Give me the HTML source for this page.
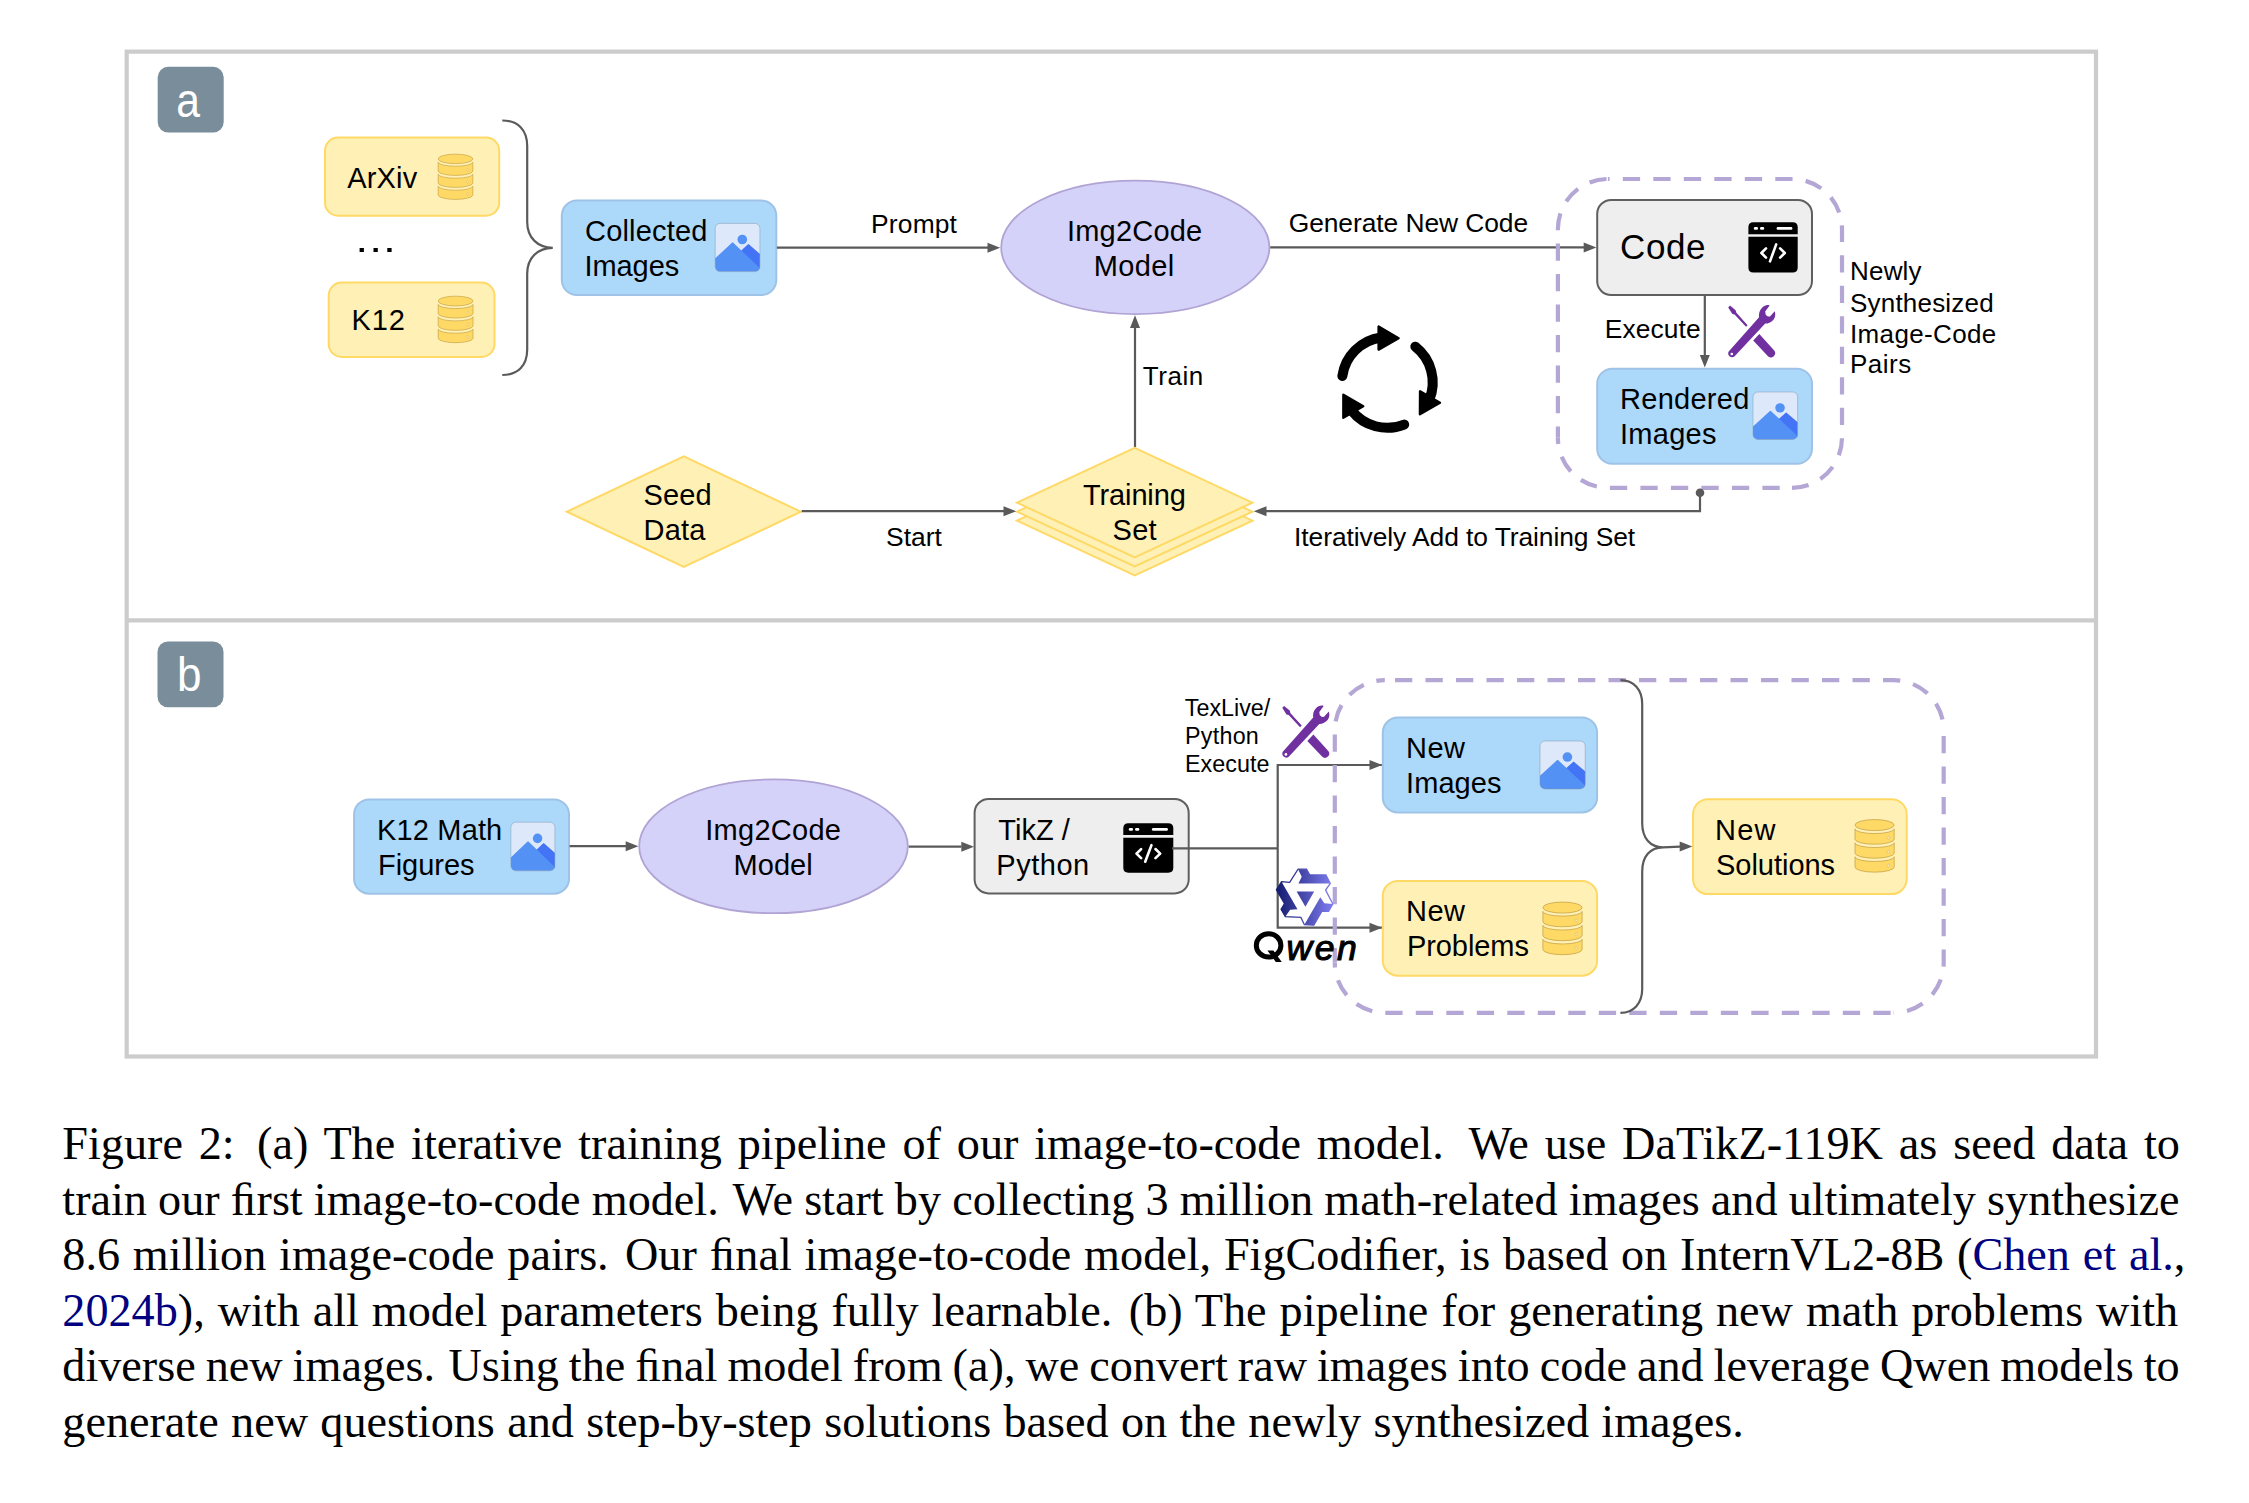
<!DOCTYPE html>
<html><head><meta charset="utf-8"><style>
html,body{margin:0;padding:0;background:#fff;width:2249px;height:1503px;overflow:hidden;position:relative}
</style></head><body>
<svg width="2249" height="1503" viewBox="0 0 2249 1503" style="position:absolute;left:0;top:0" font-family="Liberation Sans, sans-serif"><defs><symbol id="imgico" viewBox="0 0 44.7 48.2" overflow="visible" preserveAspectRatio="none">
<clipPath id="icclip"><rect x="0" y="0" width="44.7" height="48.2" rx="5"/></clipPath>
<rect x="0" y="0" width="44.7" height="48.2" rx="5" fill="#dde9fb"/>
<g clip-path="url(#icclip)">
<path d="M26.2,27.9 L33.2,21.4 L46,32.4 L46,46.3 Z" fill="#4374f5" stroke="#4374f5" stroke-width="1.2" stroke-linejoin="round"/>
<path d="M-2,37.6 L17.4,19.6 L47,47.7 L47,50 L-2,50 Z" fill="#5391f5" stroke="#5391f5" stroke-width="1.2" stroke-linejoin="round"/>
</g>
<circle cx="27.1" cy="16.1" r="4.8" fill="#5391f5"/>
<rect x="0" y="0" width="44.7" height="48.2" rx="5" fill="none" stroke="#7f95ab" stroke-width="0.6" stroke-opacity="0.8"/>
</symbol>
<symbol id="dbico" viewBox="0 0 34.6 45.6" overflow="visible" preserveAspectRatio="none"><ellipse cx="17.3" cy="4.8" rx="17.3" ry="4.75" fill="#ffd966" stroke="#bd9b3e" stroke-width="0.6"/><path d="M0,8.1 A17.3,4.0 0 0 0 34.6,8.1 L34.6,16.9 A17.3,4.4 0 0 1 0,16.9 Z" fill="#ffd966" stroke="#bd9b3e" stroke-width="0.6"/><circle cx="29.4" cy="15.7" r="1.1" fill="#fff2cc" stroke="#c9a544" stroke-width="0.4"/><path d="M0,20.1 A17.3,4.0 0 0 0 34.6,20.1 L34.6,28.9 A17.3,4.4 0 0 1 0,28.9 Z" fill="#ffd966" stroke="#bd9b3e" stroke-width="0.6"/><circle cx="29.4" cy="27.7" r="1.1" fill="#fff2cc" stroke="#c9a544" stroke-width="0.4"/><path d="M0,32.1 A17.3,4.0 0 0 0 34.6,32.1 L34.6,40.9 A17.3,4.4 0 0 1 0,40.9 Z" fill="#ffd966" stroke="#bd9b3e" stroke-width="0.6"/><circle cx="29.4" cy="39.7" r="1.1" fill="#fff2cc" stroke="#c9a544" stroke-width="0.4"/></symbol>
<symbol id="codeico" viewBox="0 0 49.3 50.3" overflow="visible" preserveAspectRatio="none">
<path d="M0,12 L0,5 Q0,0 5,0 L44.3,0 Q49.3,0 49.3,5 L49.3,12 Z" fill="#000"/>
<path d="M0,14.6 L49.3,14.6 L49.3,45.3 Q49.3,50.3 44.3,50.3 L5,50.3 Q0,50.3 0,45.3 Z" fill="#000"/>
<g stroke="#fff" stroke-width="2.6" stroke-linecap="round" stroke-linejoin="round" fill="none">
<line x1="6.7" y1="6.2" x2="8.3" y2="6.2"/><line x1="12.9" y1="6.2" x2="14.5" y2="6.2"/><line x1="29.5" y1="6.2" x2="42.7" y2="6.2"/>
<polyline points="17.6,26.2 13,30.8 17.6,35.4"/><line x1="27.8" y1="22.2" x2="21.6" y2="39.2"/><polyline points="31.7,26.2 36.4,30.8 31.7,35.4"/>
</g></symbol>
<symbol id="toolico" viewBox="0 0 60 62" overflow="visible" preserveAspectRatio="none">
<g fill="#7030a0">
<path d="M6.2,7.4 L8,5.6 L13.6,10.2 L14.4,12.8 L25.6,25.2 L24,26.8 L12.6,14.6 L10.4,14 Z"/>
<path d="M31.2,40.6 L37.3,34 L52.2,50.6 A4.2,4.2 0 0 1 46.2,56.4 Z"/>
<path d="M6.7,51.4 L37.1,17.2 C36.5,12.2 38.6,7.9 42.5,5.9 C44.3,5 46.1,4.9 47.6,5.5 L43.2,11.6 L43.7,14.8 L45.9,16.6 L48,16.4 L52.7,11.2 C53.7,14.1 53.4,17.3 51.5,19.7 C49.6,22.1 46.6,23.6 43.2,23.6 L12.4,56.6 A4,4 0 0 1 6.7,51.4 Z"/>
</g>
<circle cx="9.8" cy="54" r="1.35" fill="#fff"/>
</symbol>
<linearGradient id="qg" gradientUnits="userSpaceOnUse" x1="-29" y1="0" x2="28" y2="0"><stop offset="0" stop-color="#141b6e"/><stop offset="1" stop-color="#7f7df0"/></linearGradient>
<symbol id="qwen" viewBox="-30 -30 60 60" overflow="visible" preserveAspectRatio="none"><polygon points="-7.32,-27.44 1.10,-27.44 4.39,-21.58 20.49,-21.58 24.88,-13.17 20.22,-6.49 27.42,7.38 23.21,14.67 16.49,14.59 8.44,28.53 -1.03,28.13 -4.49,20.76 -20.10,20.06 -24.31,12.77 -20.88,6.99 -28.93,-6.95 -23.85,-14.96 -15.73,-14.27" fill="#fff" stroke="url(#qg)" stroke-width="1.3" stroke-linejoin="miter"/><polygon points="-7.32,-27.44 1.10,-27.44 4.39,-21.58 20.49,-21.58 24.88,-13.17 -6.95,-13.17 -3.66,-19.76" fill="url(#qg)"/><polygon points="27.42,7.38 23.21,14.67 16.49,14.59 8.44,28.53 -1.03,28.13 14.88,0.57 18.94,6.71" fill="url(#qg)"/><polygon points="-20.10,20.06 -24.31,12.77 -20.88,6.99 -28.93,-6.95 -23.85,-14.96 -7.93,12.60 -15.28,13.05" fill="url(#qg)"/><polygon points="-8.78,-5.12 8.78,-5.12 0.00,10.24" fill="url(#qg)"/></symbol></defs>
<rect x="126.7" y="51.65" width="1969.3" height="1004.85" fill="none" stroke="#cccccc" stroke-width="4.2"/>
<line x1="126.7" y1="620.4" x2="2096" y2="620.4" stroke="#cccccc" stroke-width="4.4"/>
<rect x="157.7" y="66.8" width="66" height="65.8" rx="10.5" fill="#798e9a"/>
<text x="0" y="117.3" font-size="49" text-anchor="middle" fill="#fff" transform="translate(188 0) scale(0.87 1)">a</text>
<rect x="157.5" y="641.4" width="66" height="65.9" rx="10.5" fill="#798e9a"/>
<text x="0" y="691.2" font-size="49" text-anchor="middle" fill="#fff" transform="translate(189.3 0) scale(0.9 1)">b</text>
<rect x="325.0" y="137.6" width="174.2" height="78.10000000000002" rx="13" fill="#fff0b5" stroke="#ffd966" stroke-width="2"/>
<rect x="328.70000000000005" y="282.6" width="165.79999999999995" height="74.29999999999995" rx="13" fill="#fff0b5" stroke="#ffd966" stroke-width="2"/>
<use href="#dbico" x="438.2" y="154.1" width="34.6" height="45.6"/>
<use href="#dbico" x="438.2" y="296.1" width="34.8" height="46.9"/>
<rect x="359.6" y="248" width="4.3" height="4" fill="#000"/>
<rect x="373.5" y="248" width="4.3" height="4" fill="#000"/>
<rect x="387.3" y="248" width="4.3" height="4" fill="#000"/>
<path d="M502.3,120.5 C518,120.5 527.2,130 527.2,146 L527.2,222 C527.2,238 538,247.8 552.8,247.8 C538,247.8 527.2,257.6 527.2,273.6 L527.2,349.5 C527.2,365.5 518,375 502.3,375" fill="none" stroke="#5a5a5a" stroke-width="2.2"/>
<rect x="561.8000000000001" y="200.6" width="214.4999999999999" height="94.4" rx="15" fill="#acd8fa" stroke="#9ec3e6" stroke-width="2"/>
<use href="#imgico" x="715.2" y="223.4" width="44.7" height="48.2"/>
<polyline points="776.90,247.70 988.00,247.70" fill="none" stroke="#5a5a5a" stroke-width="2.2"/>
<polygon points="1000.2,247.7 987.50,252.70 987.50,242.70" fill="#5a5a5a"/>
<ellipse cx="1135.3" cy="247.4" rx="134.1" ry="66.7" fill="#d4d2f9" stroke="#b1a4d5" stroke-width="1.8"/>
<polyline points="1270.20,247.40 1585.00,247.40" fill="none" stroke="#5a5a5a" stroke-width="2.2"/>
<polygon points="1596.4,247.4 1583.70,252.40 1583.70,242.40" fill="#5a5a5a"/>
<path d="M1607.9,179 L1792.0,179 A50,50 0 0 1 1842.0,229" fill="none" stroke="#b4a7d6" stroke-width="4.2" stroke-dasharray="17.3 13.2" stroke-dashoffset="15.60"/>
<path d="M1842.0,229 L1842.0,437.8 A50,50 0 0 1 1792.0,487.8" fill="none" stroke="#b4a7d6" stroke-width="4.2" stroke-dasharray="17.3 13.2" stroke-dashoffset="4.20"/>
<path d="M1792.0,487.8 L1607.9,487.8 A50,50 0 0 1 1557.9,437.8" fill="none" stroke="#b4a7d6" stroke-width="4.2" stroke-dasharray="17.3 13.2" stroke-dashoffset="18.20"/>
<path d="M1557.9,437.8 L1557.9,229 A50,50 0 0 1 1607.9,179" fill="none" stroke="#b4a7d6" stroke-width="4.2" stroke-dasharray="17.3 13.2" stroke-dashoffset="6.00"/>
<rect x="1597.1999999999998" y="199.9" width="214.80000000000018" height="95.19999999999996" rx="14" fill="#eeeeee" stroke="#5f5f5f" stroke-width="2"/>
<use href="#codeico" x="1748.4" y="222.2" width="49.3" height="50.3"/>
<polyline points="1704.80,295.40 1704.80,356.00" fill="none" stroke="#5a5a5a" stroke-width="2.2"/>
<polygon points="1704.8,367.6 1699.80,354.90 1709.80,354.90" fill="#5a5a5a"/>
<use href="#toolico" x="1722" y="300" width="60" height="62"/>
<rect x="1597.1999999999998" y="368.70000000000005" width="214.80000000000018" height="95.09999999999991" rx="15" fill="#acd8fa" stroke="#9ec3e6" stroke-width="2"/>
<use href="#imgico" x="1753" y="392" width="44.6" height="47.5"/>
<g id="cyc1"><path d="M1342.35,376.00 A45.4,45.4 0 0 1 1380.98,337.44" fill="none" stroke="#000" stroke-width="10" stroke-linecap="round"/><polygon points="1378.6,326.6 1378.6,349.6 1398.6,338.2" fill="#000" stroke="#000" stroke-width="2.4" stroke-linejoin="round"/></g>
<use href="#cyc1" transform="rotate(120 1387.3 382.4)"/>
<use href="#cyc1" transform="rotate(240 1387.3 382.4)"/>
<polyline points="1135.00,447.30 1135.00,328.00" fill="none" stroke="#5a5a5a" stroke-width="2.2"/>
<polygon points="1135,315.2 1140.00,327.90 1130.00,327.90" fill="#5a5a5a"/>
<polygon points="566.8,511.7 683.8,456.45 800.8,511.7 683.8,566.95" fill="#fff0b5" stroke="#ffd966" stroke-width="2"/>
<polygon points="1016.95,520.7 1134.7,465.95000000000005 1252.45,520.7 1134.7,575.45" fill="#fff0b5" stroke="#ffd966" stroke-width="2"/>
<polygon points="1016.95,511.7 1134.7,456.95 1252.45,511.7 1134.7,566.45" fill="#fff0b5" stroke="#ffd966" stroke-width="2"/>
<polygon points="1016.95,502.7 1134.7,447.95 1252.45,502.7 1134.7,557.45" fill="#fff0b5" stroke="#ffd966" stroke-width="2"/>
<polyline points="801.70,511.20 1004.00,511.20" fill="none" stroke="#5a5a5a" stroke-width="2.2"/>
<polygon points="1016.2,511.2 1003.50,516.20 1003.50,506.20" fill="#5a5a5a"/>
<polyline points="1700.00,492.70 1700.00,511.20 1266.00,511.20" fill="none" stroke="#5a5a5a" stroke-width="2.2"/>
<polygon points="1253.8,511.2 1266.50,506.20 1266.50,516.20" fill="#5a5a5a"/>
<circle cx="1700" cy="492.7" r="4.3" fill="#5a5a5a"/>
<rect x="354.1" y="799.4" width="214.89999999999998" height="94.29999999999995" rx="15" fill="#acd8fa" stroke="#9ec3e6" stroke-width="2"/>
<use href="#imgico" x="510.9" y="822.2" width="44" height="48.6"/>
<polyline points="569.60,846.20 626.00,846.20" fill="none" stroke="#5a5a5a" stroke-width="2.2"/>
<polygon points="638.4,846.2 625.70,851.20 625.70,841.20" fill="#5a5a5a"/>
<ellipse cx="773.5" cy="846.3" rx="134.3" ry="66.9" fill="#d4d2f9" stroke="#b1a4d5" stroke-width="1.8"/>
<polyline points="908.70,846.70 961.50,846.70" fill="none" stroke="#5a5a5a" stroke-width="2.2"/>
<polygon points="974,846.7 961.30,851.70 961.30,841.70" fill="#5a5a5a"/>
<rect x="974.6" y="798.9" width="214.10000000000002" height="94.5" rx="14" fill="#eeeeee" stroke="#5f5f5f" stroke-width="2"/>
<use href="#codeico" x="1123.3" y="823.3" width="50" height="49.4"/>
<polyline points="1172.00,848.30 1277.70,848.30" fill="none" stroke="#5a5a5a" stroke-width="2.2"/>
<polyline points="1382.00,765.00 1277.70,765.00 1277.70,927.70 1382.00,927.70" fill="none" stroke="#5a5a5a" stroke-width="2.2"/>
<polygon points="1382.2,765 1369.50,770.00 1369.50,760.00" fill="#5a5a5a"/>
<polygon points="1382.2,927.7 1369.50,932.70 1369.50,922.70" fill="#5a5a5a"/>
<use href="#toolico" x="1276.1" y="700.4" width="60" height="62"/>
<path d="M1384.8,680.2 L1893.6999999999998,680.2 A50,50 0 0 1 1943.6999999999998,730.2" fill="none" stroke="#b4a7d6" stroke-width="4.2" stroke-dasharray="17.3 13.2" stroke-dashoffset="20.30"/>
<path d="M1943.6999999999998,730.2 L1943.6999999999998,962.8000000000001 A50,50 0 0 1 1893.6999999999998,1012.8000000000001" fill="none" stroke="#b4a7d6" stroke-width="4.2" stroke-dasharray="17.3 13.2" stroke-dashoffset="24.80"/>
<path d="M1893.6999999999998,1012.8000000000001 L1384.8,1012.8000000000001 A50,50 0 0 1 1334.8,962.8000000000001" fill="none" stroke="#b4a7d6" stroke-width="4.2" stroke-dasharray="17.3 13.2" stroke-dashoffset="27.40"/>
<path d="M1334.8,962.8000000000001 L1334.8,730.2 A50,50 0 0 1 1384.8,680.2" fill="none" stroke="#b4a7d6" stroke-width="4.2" stroke-dasharray="17.3 13.2" stroke-dashoffset="2.50"/>
<rect x="1382.8" y="717.6" width="214.30000000000018" height="94.79999999999995" rx="15" fill="#acd8fa" stroke="#9ec3e6" stroke-width="2"/>
<use href="#imgico" x="1540" y="741" width="45.2" height="48"/>
<rect x="1382.8" y="880.9" width="214.30000000000018" height="94.79999999999995" rx="15" fill="#fff0b5" stroke="#ffd966" stroke-width="2"/>
<use href="#dbico" x="1542.9" y="902" width="39.2" height="53"/>
<path d="M1620.4,680.2 C1634,680.2 1642.2,690 1642.2,704 L1642.2,823 C1642.2,838 1650,847.3 1663,847.3 C1650,847.3 1642.2,856.6 1642.2,871.6 L1642.2,989 C1642.2,1003 1634,1012.8 1620.4,1012.8" fill="none" stroke="#5a5a5a" stroke-width="2.2"/>
<polyline points="1663.00,847.30 1680.00,846.60" fill="none" stroke="#5a5a5a" stroke-width="2.2"/>
<polygon points="1692.4,846.4 1679.70,851.40 1679.70,841.40" fill="#5a5a5a"/>
<rect x="1693.0" y="799.2" width="213.70000000000005" height="94.89999999999998" rx="15" fill="#fff0b5" stroke="#ffd966" stroke-width="2"/>
<use href="#dbico" x="1855" y="819.5" width="39.2" height="53"/>
<use href="#qwen" x="1275.4" y="866.6" width="60" height="60"/>
<ellipse cx="1268.6" cy="945.4" rx="12.3" ry="11.7" fill="none" stroke="#000" stroke-width="5"/>
<polygon points="1267.4,950.4 1273.4,950.4 1281.8,961.9 1275.8,961.9" fill="#000"/>
<text id="arxiv" x="347.30" y="187.9" font-size="29" textLength="69.90" lengthAdjust="spacing" >ArXiv</text>
<text id="k12" x="351.50" y="329.8" font-size="29" textLength="53.41" lengthAdjust="spacing" >K12</text>
<text id="collected" x="585.00" y="241.1" font-size="29" textLength="122.51" lengthAdjust="spacing" >Collected</text>
<text id="images1" x="584.50" y="276.3" font-size="29" textLength="94.71" lengthAdjust="spacing" >Images</text>
<text id="prompt" x="871.10" y="232.5" font-size="26.4" textLength="85.86" lengthAdjust="spacing" >Prompt</text>
<text id="img2code_a" x="1067.00" y="240.9" font-size="29" textLength="135.21" lengthAdjust="spacing" >Img2Code</text>
<text id="model_a" x="1093.80" y="275.8" font-size="29" textLength="80.40" lengthAdjust="spacing" >Model</text>
<text id="gennew" x="1288.70" y="232.2" font-size="26.4" textLength="239.39" lengthAdjust="spacing" >Generate New Code</text>
<text id="code" x="1620.00" y="259.4" font-size="35" textLength="85.47" lengthAdjust="spacing" >Code</text>
<text id="execute_a" x="1604.70" y="337.6" font-size="26.4" textLength="95.96" lengthAdjust="spacing" >Execute</text>
<text id="rendered" x="1620.10" y="408.8" font-size="29" textLength="129.17" lengthAdjust="spacing" >Rendered</text>
<text id="images2" x="1620.00" y="443.7" font-size="29" textLength="96.51" lengthAdjust="spacing" >Images</text>
<text id="newly" x="1850.00" y="279.7" font-size="26" textLength="71.60" lengthAdjust="spacing" >Newly</text>
<text id="synth" x="1850.00" y="311.8" font-size="26" textLength="143.66" lengthAdjust="spacing" >Synthesized</text>
<text id="imgcode" x="1850.00" y="342.7" font-size="26" textLength="146.28" lengthAdjust="spacing" >Image-Code</text>
<text id="pairs" x="1850.00" y="373.4" font-size="26" textLength="61.25" lengthAdjust="spacing" >Pairs</text>
<text id="train" x="1142.80" y="384.8" font-size="26" textLength="60.48" lengthAdjust="spacing" >Train</text>
<text id="seed" x="643.60" y="504.9" font-size="29" textLength="68.13" lengthAdjust="spacing" >Seed</text>
<text id="data" x="643.60" y="539.5" font-size="29" textLength="61.87" lengthAdjust="spacing" >Data</text>
<text id="training" x="1083.10" y="504.9" font-size="29" textLength="102.70" lengthAdjust="spacing" >Training</text>
<text id="set" x="1112.60" y="540.0" font-size="29" textLength="43.93" lengthAdjust="spacing" >Set</text>
<text id="start" x="886.10" y="546.0" font-size="26.4" textLength="55.73" lengthAdjust="spacing" >Start</text>
<text id="iter" x="1294.10" y="545.6" font-size="26.4" textLength="341.08" lengthAdjust="spacing" >Iteratively Add to Training Set</text>
<text id="k12math" x="377.10" y="839.8" font-size="29" textLength="125.14" lengthAdjust="spacing" >K12 Math</text>
<text id="figures" x="378.00" y="874.7" font-size="29" textLength="96.50" lengthAdjust="spacing" >Figures</text>
<text id="img2code_b" x="705.20" y="839.6" font-size="29" textLength="135.81" lengthAdjust="spacing" >Img2Code</text>
<text id="model_b" x="733.50" y="874.8" font-size="29" textLength="79.20" lengthAdjust="spacing" >Model</text>
<text id="tikz" x="998.30" y="839.6" font-size="29" textLength="71.42" lengthAdjust="spacing" >TikZ /</text>
<text id="python" x="996.30" y="874.8" font-size="29" textLength="92.90" lengthAdjust="spacing" >Python</text>
<text id="texlive" x="1184.80" y="716.1" font-size="23.3" textLength="85.47" lengthAdjust="spacing" >TexLive/</text>
<text id="python_s" x="1184.90" y="744.0" font-size="23.3" textLength="73.93" lengthAdjust="spacing" >Python</text>
<text id="execute_s" x="1184.90" y="772.0" font-size="23.3" textLength="84.59" lengthAdjust="spacing" >Execute</text>
<text id="new1" x="1406.10" y="758.0" font-size="29" textLength="58.82" lengthAdjust="spacing" >New</text>
<text id="images3" x="1406.00" y="792.9" font-size="29" textLength="95.51" lengthAdjust="spacing" >Images</text>
<text id="new2" x="1406.10" y="920.8" font-size="29" textLength="58.82" lengthAdjust="spacing" >New</text>
<text id="problems" x="1407.00" y="955.7" font-size="29" textLength="121.90" lengthAdjust="spacing" >Problems</text>
<text id="new3" x="1715.10" y="840.0" font-size="29" textLength="60.42" lengthAdjust="spacing" >New</text>
<text id="solutions" x="1716.00" y="875.0" font-size="29" textLength="119.11" lengthAdjust="spacing" >Solutions</text>
<text id="qwentext" x="1286.60" y="959.5" font-size="35.5" textLength="70.05" lengthAdjust="spacing" font-style="italic" stroke="#000" stroke-width="1.1">wen</text><text id="cap0" x="62.30" y="1158.9" font-family="Liberation Serif, serif" font-size="46.2" style="word-spacing:4.329px">Figure 2:<tspan dx="6.5"> </tspan>(a) The iterative training pipeline of our image-to-code model.<tspan dx="9.5"> </tspan>We use DaTikZ-119K as seed data to</text><text id="cap1" x="62.30" y="1214.6" font-family="Liberation Serif, serif" font-size="46.2" style="word-spacing:-0.387px">train our ﬁrst image-to-code model.<tspan dx="3.5"> </tspan>We start by collecting 3 million math-related images and ultimately synthesize</text><text id="cap2" x="62.30" y="1269.9" font-family="Liberation Serif, serif" font-size="46.2" style="word-spacing:1.267px">8.6 million image-code pairs.<tspan dx="3.5"> </tspan>Our ﬁnal image-to-code model, FigCodiﬁer, is based on InternVL2-8B (<tspan fill="#000080">Chen et al.</tspan>,</text><text id="cap3" x="62.30" y="1326.1" font-family="Liberation Serif, serif" font-size="46.2" style="word-spacing:1.413px"><tspan fill="#000080">2024b</tspan>), with all model parameters being fully learnable.<tspan dx="3.5"> </tspan>(b) The pipeline for generating new math problems with</text><text id="cap4" x="62.30" y="1381.4" font-family="Liberation Serif, serif" font-size="46.2" style="word-spacing:-1.547px">diverse new images.<tspan dx="3.5"> </tspan>Using the ﬁnal model from (a), we convert raw images into code and leverage Qwen models to</text><text id="cap5" x="62.30" y="1436.7" font-family="Liberation Serif, serif" font-size="46.2" style="word-spacing:0.800px">generate new questions and step-by-step solutions based on the newly synthesized images.</text></svg>
</body></html>
